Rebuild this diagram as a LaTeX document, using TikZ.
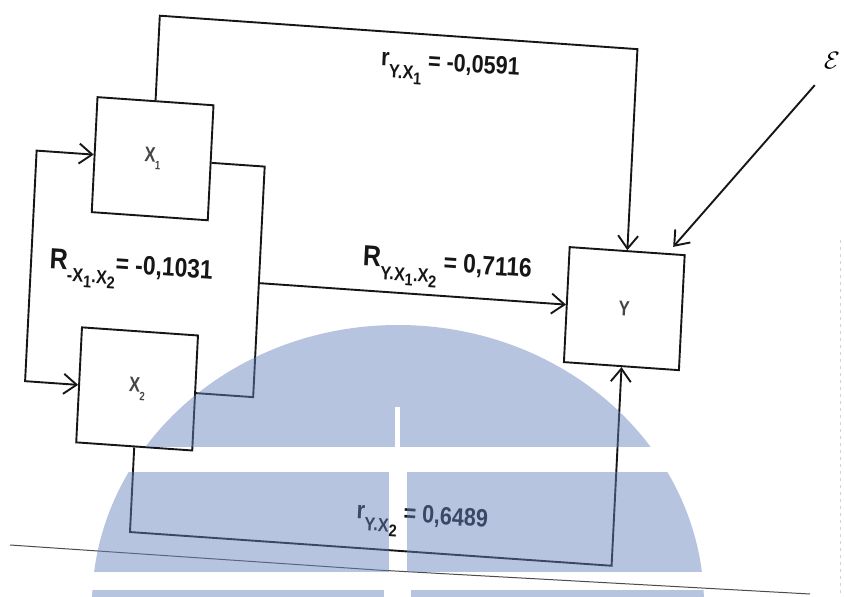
\documentclass[tikz,border=0pt]{standalone}
\usepackage{fontspec}
\usetikzlibrary{arrows.meta}
\newfontfamily\labfont[FakeStretch=0.86]{Liberation Sans}
\newfontfamily\boxfont[FakeStretch=0.78]{Liberation Sans}
\definecolor{wmblue}{RGB}{100,130,190}
\definecolor{ink}{RGB}{22,22,22}
\newcommand\lsub[1]{\raisebox{-0.45em}{\fontsize{19}{20}\selectfont #1}}
\newcommand\lsubb[1]{\raisebox{-0.25em}{\fontsize{17}{18}\selectfont #1}}
\newcommand\bsub[1]{\raisebox{-0.35em}{\fontsize{12}{13}\selectfont #1}}
\begin{document}
\begin{tikzpicture}[x=1pt,y=1pt,
  box/.style={draw=ink, line width=1.9pt, minimum width=116pt, minimum height=115pt,
    inner sep=0pt, font=\boxfont\bfseries\fontsize{21}{22}\selectfont, text=ink!80},
  lab/.style={inner sep=0pt, font=\labfont\bfseries\fontsize{25}{28}\selectfont, text=ink},
  bigR/.style={inner sep=0pt, font=\labfont\bfseries\fontsize{26.5}{28}\selectfont, text=ink},
  conn/.style={draw=ink, line width=1.9pt},
  arr/.style={conn, -{Straight Barb[length=13pt,width=20pt]}},
  biarr/.style={conn, {Straight Barb[length=13pt,width=20pt]}-{Straight Barb[length=13pt,width=20pt]}},
  wm/.style={fill=wmblue, fill opacity=0.47}]
\fill[white] (0,0) rectangle (844,-597);
\useasboundingbox (0,0) rectangle (844,-597);
% scan edge marks
\draw[gray!60!black, line width=1pt] (10,-545) -- (377,-570) -- (810,-594);
\draw[gray!35, line width=0.6pt, dash pattern=on 3pt off 4pt] (840,-240) -- (840,-597);
% diagram (slightly rotated as in the scan)
\begin{scope}[cm={1,-0.07,0.05,1,(0,0)}, every node/.append style={transform shape}]
  \node[box] (X1) at (160,-147.5) {X\bsub{1}};
  \node[box] (X2) at (156,-378) {X\bsub{2}};
  \node[box, minimum width=115pt] (Y) at (637.5,-264) {Y};
  \node[inner sep=0pt, font=\fontsize{30}{32}\selectfont] (eps) at (832,-2) {$\mathcal{E}$};
  \coordinate (es) at (816,-28);
  \coordinate (et) at (683,-199);
  \coordinate (top1) at (160,-4.5);
  \coordinate (lft) at (44,-147.5);
  \coordinate (rgt) at (272,-147.5);
  \coordinate (rj) at (272,-264);
  \coordinate (bot1) at (156,-521);
  % connectors
  \draw[arr] (X1.north) -- (top1) -| (Y.north);
  \draw[biarr] (X1.west) -- (lft) |- (X2.west);
  \draw[conn] (X1.east) -- (rgt) |- (X2.east);
  \draw[arr] (rj) -- (Y.west);
  \draw[arr] (X2.south) -- (bot1) -| (Y.south);
  \draw[arr] (es) -- (et);
  % labels
  \node[lab] (lr1) at (452,-38.4) {r\lsub{Y.X\lsubb{1}} = -0,0591};
  \node[bigR] (lR12) at (144,-262) {{\fontsize{29}{30}\selectfont R}\lsub{-X\lsubb{1}.X\lsubb{2}}= -0,1031};
  \node[bigR] (lRY) at (459,-238) {{\fontsize{29}{30}\selectfont R}\lsub{Y.X\lsubb{1}.X\lsubb{2}} = 0,7116};
  \node[lab] (lr2) at (446.5,-491) {r\lsub{Y.X\lsubb{2}} = 0,6489};
\end{scope}
% watermark
\begin{scope}
  \clip (398,-605) ellipse [x radius=306, y radius=280];
  \fill[wm] (0,-320) rectangle (844,-407);
  \fill[wm] (0,-407) rectangle (395,-447);
  \fill[wm] (400,-407) rectangle (844,-447);
  \fill[wm] (0,-472) rectangle (389,-572);
  \fill[wm] (407,-472) rectangle (844,-572);
  \fill[wm] (0,-590) rectangle (384,-597);
  \fill[wm] (411,-590) rectangle (844,-597);
\end{scope}
\end{tikzpicture}
\end{document}
